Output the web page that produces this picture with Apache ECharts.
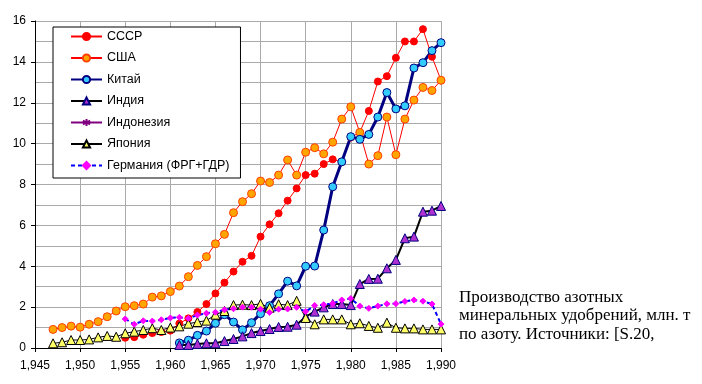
<!DOCTYPE html>
<html>
<head>
<meta charset="utf-8">
<script src="https://cdn.jsdelivr.net/npm/echarts@6/dist/echarts.min.js"></script>
<style>
html,body{margin:0;padding:0;background:#fff;}
#chart{width:702px;height:384px;}
</style>
</head>
<body>
<div id="chart"></div>
<script>
// Years 1947..1990
const years = [1947,1948,1949,1950,1951,1952,1953,1954,1955,1956,1957,1958,1959,1960,1961,1962,1963,1964,1965,1966,1967,1968,1969,1970,1971,1972,1973,1974,1975,1976,1977,1978,1979,1980,1981,1982,1983,1984,1985,1986,1987,1988,1989,1990];

const ussr = [null,null,null,null,null,null,null,null,
  0.5,0.53,0.65,0.73,0.78,0.85,1.2,1.45,1.76,2.15,2.67,3.2,3.74,4.22,4.51,5.45,6.05,6.59,7.21,7.81,8.46,8.53,9.0,9.23,9.1,10.3,10.55,11.6,13.04,13.3,14.2,15.0,15.0,15.6,14.25,13.1];

const usa = [0.91,1.0,1.07,1.02,1.16,1.29,1.53,1.81,2.02,2.07,2.15,2.49,2.55,2.76,3.03,3.49,4.04,4.47,5.1,5.56,6.62,7.16,7.55,8.17,8.1,8.46,9.2,8.46,9.58,9.8,9.5,10.07,11.2,11.8,10.55,9.0,9.41,11.3,9.46,11.2,12.13,12.75,12.6,13.1];

const china = [null,null,null,null,null,null,null,null,null,null,null,null,null,null,
  0.25,0.38,0.62,0.83,1.21,1.63,1.27,0.89,1.24,1.68,2.07,2.65,3.27,3.04,4.0,4.01,5.77,7.89,9.11,10.34,10.21,10.45,11.3,12.5,11.7,11.85,13.7,13.96,14.55,14.94];

const india = [null,null,null,null,null,null,null,null,null,null,null,null,null,null,
  0.15,0.15,0.2,0.23,0.23,0.34,0.44,0.57,0.73,0.83,0.93,1.03,1.04,1.14,1.53,1.78,1.99,2.15,2.15,2.1,3.13,3.38,3.39,3.9,4.31,5.37,5.45,6.67,6.72,6.95];

const indonesia = [];

const japan = [0.23,0.28,0.39,0.39,0.42,0.52,0.59,0.55,0.72,0.8,0.88,0.97,0.88,1.0,1.06,1.19,1.27,1.34,1.63,1.81,2.1,2.12,2.1,2.16,1.97,2.14,2.1,2.31,1.47,1.16,1.4,1.4,1.4,1.16,1.21,1.08,0.99,1.24,0.99,0.96,0.96,0.91,0.91,0.91];

const germany = [null,null,null,null,null,null,null,null,
  1.42,1.16,1.33,1.32,1.38,1.47,1.5,1.45,1.61,1.7,1.75,1.87,1.92,2.0,2.0,1.9,1.74,1.9,1.91,1.99,1.78,2.08,2.12,2.18,2.35,2.42,2.05,1.94,2.05,2.16,2.17,2.28,2.35,2.29,2.15,1.17];

const seriesNames = ['СССР','США','Китай','Индия','Индонезия','Япония','Германия (ФРГ+ГДР)'];
const noteLines = ['Производство азотных','минеральных удобрений, млн. т','по азоту. Источники: [S.20,'];

function pairs(vals){ return years.map((y,i)=>[y, vals[i] === undefined ? null : vals[i]]).filter(p=>p[1]!==null); }

const chart = echarts.init(document.getElementById('chart'));
const FONT = 'Arial, "Liberation Sans", sans-serif';
const asterisk = 'path://M0,-5L0,5M-4.3,-2.5L4.3,2.5M-4.3,2.5L4.3,-2.5';

const option = {
  animation: false,
  backgroundColor: '#fff',
  grid: {left: 35, right: 261, top: 21, bottom: 36},
  legend: {
    orient: 'vertical', left: 53, top: 27,
    itemWidth: 31, itemHeight: 9, itemGap: 8.5,
    padding: [3, 11, 6, 17],
    borderColor: '#000', borderWidth: 1, backgroundColor: '#fff',
    textStyle: {fontFamily: FONT, fontSize: 12.5, color: '#000'},
    data: seriesNames
  },
  xAxis: {
    type: 'value', min: 1945, max: 1990, interval: 5,
    axisLine: {lineStyle: {color: '#000', width: 1}},
    axisTick: {show: true, length: 4, lineStyle: {color: '#000'}},
    axisLabel: {fontFamily: FONT, fontSize: 12, color: '#000', margin: 12},
    splitLine: {show: true, lineStyle: {color: '#aaaaaa', width: 1}}
  },
  yAxis: {
    type: 'value', min: 0, max: 16, interval: 2,
    axisLine: {show: true, lineStyle: {color: '#000', width: 1}},
    axisTick: {show: true, length: 4, lineStyle: {color: '#000'}},
    axisLabel: {fontFamily: FONT, fontSize: 12, color: '#000', margin: 9},
    splitLine: {show: true, lineStyle: {color: '#aaaaaa', width: 1}},
    minorTick: {show: false, splitNumber: 2},
    minorSplitLine: {show: true, lineStyle: {color: '#aaaaaa', width: 1}}
  },
  series: [
    {name: seriesNames[0], type: 'line', data: pairs(ussr), symbol: 'circle', symbolSize: 7,
     lineStyle: {color: '#ff0000', width: 1}, itemStyle: {color: '#ff0000', borderColor: '#ff0000', borderWidth: 1}},
    {name: seriesNames[1], type: 'line', data: pairs(usa), symbol: 'circle', symbolSize: 8,
     lineStyle: {color: '#ff0000', width: 1}, itemStyle: {color: '#ffa500', borderColor: '#ff4000', borderWidth: 1}},
    {name: seriesNames[2], type: 'line', data: pairs(china), symbol: 'circle', symbolSize: 8,
     lineStyle: {color: '#000080', width: 3}, itemStyle: {color: '#33ccff', borderColor: '#000080', borderWidth: 1}},
    {name: seriesNames[3], type: 'line', data: pairs(india), symbol: 'triangle', symbolSize: 9,
     lineStyle: {color: '#000000', width: 2}, itemStyle: {color: '#b030d0', borderColor: '#000080', borderWidth: 1}},
    {name: seriesNames[4], type: 'line', data: pairs(indonesia), symbol: asterisk, symbolSize: 8,
     lineStyle: {color: '#800080', width: 1}, itemStyle: {color: 'none', borderColor: '#800080', borderWidth: 1}},
    {name: seriesNames[5], type: 'line', data: pairs(japan), symbol: 'triangle', symbolSize: 9,
     lineStyle: {color: '#000000', width: 1}, itemStyle: {color: '#ffff66', borderColor: '#000000', borderWidth: 1}},
    {name: seriesNames[6], type: 'line', data: pairs(germany), symbol: 'diamond', symbolSize: 6,
     lineStyle: {color: '#0000ff', width: 2, type: [4, 3]}, itemStyle: {color: '#ff00ff', borderColor: '#ff00ff', borderWidth: 1}}
  ],
  graphic: noteLines.map((t, i) => ({
    type: 'text', left: 459, top: 289 + i * 18.5,
    style: {text: t, fontFamily: '"Liberation Serif", "Times New Roman", serif', fontSize: 17, fill: '#000'}
  }))
};
chart.setOption(option);
</script>
</body>
</html>
